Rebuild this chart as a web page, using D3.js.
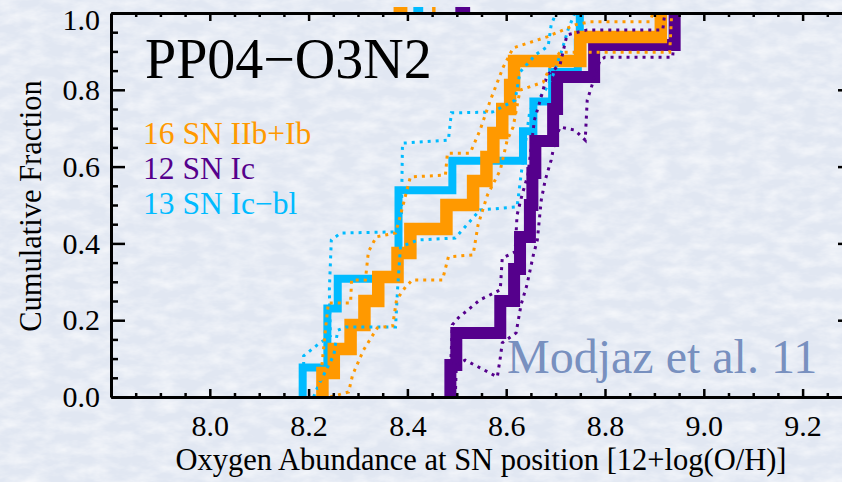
<!DOCTYPE html>
<html>
<head>
<meta charset="utf-8">
<script src="https://cdn.jsdelivr.net/npm/d3@7"></script>
<style>
  html, body { margin: 0; padding: 0; background: #e1e7f1; }
  svg { display: block; }
  text { font-family: "Liberation Serif", "Times New Roman", serif; }
</style>
</head>
<body>
<svg id="chart" width="842" height="482"></svg>
<script>
// sorted 12+log(O/H) of each sample (solid cumulative curves)
const snIIbIb = [8.228, 8.251, 8.285, 8.313, 8.341, 8.380, 8.406, 8.479, 8.533, 8.560, 8.574, 8.592, 8.608, 8.616, 8.750, 8.913];
const snIc = [8.487, 8.499, 8.588, 8.616, 8.628, 8.648, 8.653, 8.659, 8.695, 8.703, 8.778, 8.941];
const snIcBl = [8.188, 8.238, 8.238, 8.259, 8.382, 8.382, 8.382, 8.491, 8.634, 8.655, 8.693, 8.745, 8.749];

// dotted envelopes: [12+log(O/H), cumulative fraction]
const snIIbIbLow = [[8.220, 0.000], [8.226, 0.070], [8.234, 0.174], [8.240, 0.245], [8.285, 0.245], [8.287, 0.305],
  [8.315, 0.305], [8.321, 0.378], [8.337, 0.417], [8.376, 0.427], [8.386, 0.474], [8.406, 0.573], [8.477, 0.578],
  [8.481, 0.635], [8.527, 0.635], [8.547, 0.695], [8.568, 0.773], [8.594, 0.859], [8.614, 0.909], [8.683, 0.938],
  [8.739, 0.969], [8.770, 0.977], [8.891, 0.977], [8.897, 1.000]];
const snIIbIbHigh = [[8.244, 0.000], [8.281, 0.013], [8.289, 0.057], [8.311, 0.122], [8.339, 0.180], [8.370, 0.185],
  [8.378, 0.253], [8.396, 0.286], [8.410, 0.305], [8.471, 0.305], [8.483, 0.365], [8.533, 0.370], [8.543, 0.448],
  [8.562, 0.526], [8.588, 0.591], [8.602, 0.669], [8.614, 0.703], [8.628, 0.799], [8.675, 0.820], [8.693, 0.872],
  [8.709, 0.898], [8.931, 0.898], [8.935, 1.000]];
const snIcLow = [[8.485, 0.000], [8.491, 0.188], [8.503, 0.206], [8.547, 0.253], [8.588, 0.279], [8.592, 0.362],
  [8.618, 0.378], [8.622, 0.474], [8.632, 0.526], [8.644, 0.578], [8.657, 0.721], [8.669, 0.773], [8.683, 0.839],
  [8.709, 0.865], [8.723, 0.943], [8.764, 0.956], [8.917, 0.956], [8.921, 1.000]];
const snIcHigh = [[8.497, 0.000], [8.499, 0.083], [8.517, 0.096], [8.547, 0.076], [8.582, 0.052], [8.588, 0.102],
  [8.592, 0.141], [8.620, 0.167], [8.630, 0.240], [8.642, 0.292], [8.655, 0.370], [8.663, 0.409], [8.671, 0.513],
  [8.679, 0.565], [8.691, 0.617], [8.699, 0.669], [8.709, 0.703], [8.739, 0.695], [8.760, 0.669], [8.764, 0.773],
  [8.774, 0.813], [8.790, 0.878], [8.800, 0.885], [8.937, 0.885], [8.943, 1.000]];
const snIcBlLow = [[8.190, 0.000], [8.190, 0.107], [8.220, 0.138], [8.244, 0.159], [8.242, 0.279], [8.246, 0.409],
  [8.265, 0.427], [8.376, 0.430], [8.388, 0.474], [8.390, 0.661], [8.483, 0.669], [8.489, 0.740], [8.572, 0.742],
  [8.618, 0.773], [8.628, 0.846], [8.659, 0.891], [8.685, 0.914], [8.691, 0.969], [8.701, 1.000]];
const snIcBlHigh = [[8.210, 0.000], [8.220, 0.031], [8.251, 0.109], [8.259, 0.174], [8.275, 0.182], [8.376, 0.182],
  [8.380, 0.279], [8.386, 0.391], [8.422, 0.409], [8.497, 0.414], [8.547, 0.487], [8.622, 0.495], [8.630, 0.578],
  [8.648, 0.747], [8.679, 0.799], [8.695, 0.839], [8.713, 0.904], [8.725, 0.956], [8.739, 1.000]];

// bits of a legend that got cropped off above the frame: [from, to] in O/H
const cutLegendIIbIb = [[8.372, 8.400], [8.450, 8.457]];
const cutLegendIcBl = [[8.412, 8.432]];
const cutLegendIc = [[8.497, 8.527]];

const xTicks = [8.0, 8.2, 8.4, 8.6, 8.8, 9.0, 9.2];
const yTicks = [0.0, 0.2, 0.4, 0.6, 0.8, 1.0];
const legendLabels = ['16 SN IIb+Ib', '12 SN Ic', '13 SN Ic\u2212bl'];

const colors = { IIbIb: '#ff9900', Ic: '#55008c', IcBl: '#00bbff' };

const svg = d3.select('#chart');
const width = 842, height = 482;

const x = d3.scaleLinear().domain([7.8, 9.3]).range([111, 852]);
const y = d3.scaleLinear().domain([0, 1]).range([397, 13]);

// paper texture
const defs = svg.append('defs');
const paper = defs.append('filter').attr('id', 'paper')
  .attr('x', 0).attr('y', 0).attr('width', '100%').attr('height', '100%');
paper.append('feTurbulence').attr('type', 'fractalNoise')
  .attr('baseFrequency', '0.045 0.09').attr('numOctaves', 4).attr('seed', 11);
paper.append('feColorMatrix').attr('type', 'matrix')
  .attr('values', '0 0 0 0 1  0 0 0 0 1  0 0 0 0 1  1.1 0 0 0 -0.38');
defs.append('clipPath').attr('id', 'crop')
  .append('rect').attr('x', 0).attr('y', 7).attr('width', width).attr('height', height - 7);

svg.append('rect').attr('width', width).attr('height', height).attr('fill', '#e1e7f2');
svg.append('rect').attr('width', width).attr('height', height).attr('filter', 'url(#paper)');

const g = svg.append('g').attr('clip-path', 'url(#crop)');

// cumulative step curves
const cdf = (vals) => [[vals[0], 0]].concat(vals.map((v, i) => [v, (i + 1) / vals.length]));
const stepLine = d3.line().x(d => x(d[0])).y(d => y(d[1])).curve(d3.curveStepAfter);
const dotLine = d3.line().x(d => x(d[0])).y(d => y(d[1]));

const solids = [
  { data: snIcBl, color: colors.IcBl, w: 8 },
  { data: snIc, color: colors.Ic, w: 12 },
  { data: snIIbIb, color: colors.IIbIb, w: 12.5 },
];
g.selectAll('.solid').data(solids).enter().append('path')
  .attr('class', 'solid')
  .attr('d', d => stepLine(cdf(d.data)))
  .attr('fill', 'none')
  .attr('stroke', d => d.color)
  .attr('stroke-width', d => d.w)
  .attr('stroke-linejoin', 'miter');

const dotted = [
  { data: snIcBlLow, color: colors.IcBl },
  { data: snIcBlHigh, color: colors.IcBl },
  { data: snIcLow, color: colors.Ic },
  { data: snIcHigh, color: colors.Ic },
  { data: snIIbIbLow, color: colors.IIbIb },
  { data: snIIbIbHigh, color: colors.IIbIb },
];
g.selectAll('.dotted').data(dotted).enter().append('path')
  .attr('class', 'dotted')
  .attr('d', d => dotLine(d.data))
  .attr('fill', 'none')
  .attr('stroke', d => d.color)
  .attr('stroke-width', 3)
  .attr('stroke-dasharray', '3 5');

const stubs = [].concat(
  cutLegendIIbIb.map(r => ({ r, color: colors.IIbIb })),
  cutLegendIcBl.map(r => ({ r, color: colors.IcBl })),
  cutLegendIc.map(r => ({ r, color: colors.Ic })));
g.selectAll('.stub').data(stubs).enter().append('line')
  .attr('x1', d => x(d.r[0])).attr('x2', d => x(d.r[1]))
  .attr('y1', y(1.01)).attr('y2', y(1.01))
  .attr('stroke', d => d.color).attr('stroke-width', 6);

// axes
const xMinor = d3.range(157, 186).filter(i => i % 4 !== 0).map(i => i / 20);
const yMinor = d3.range(1, 20).filter(i => i % 4 !== 0).map(i => i / 20);

function styleAxis(sel) {
  sel.selectAll('path.domain').attr('stroke', '#000').attr('stroke-width', 3);
  sel.selectAll('.tick line').attr('stroke', '#000').attr('stroke-width', 2.5);
  sel.selectAll('.tick text').attr('fill', '#000')
    .style('font-family', '"Liberation Serif", serif').style('font-size', '30px');
}

const axisB = g.append('g').attr('transform', `translate(0,${y(0)})`)
  .call(d3.axisBottom(x).tickValues(xTicks).tickSize(-8).tickSizeOuter(0).tickPadding(18)
    .tickFormat(d3.format('.1f')));
styleAxis(axisB);
const axisBMinor = g.append('g').attr('transform', `translate(0,${y(0)})`)
  .call(d3.axisBottom(x).tickValues(xMinor).tickSize(-4).tickFormat(''));
axisBMinor.select('.domain').remove();
styleAxis(axisBMinor);

const axisT = g.append('g').attr('transform', `translate(0,${y(1)})`)
  .call(d3.axisTop(x).tickValues(xTicks).tickSize(-8).tickSizeOuter(0).tickFormat(''));
styleAxis(axisT);
const axisTMinor = g.append('g').attr('transform', `translate(0,${y(1)})`)
  .call(d3.axisTop(x).tickValues(xMinor).tickSize(-4).tickFormat(''));
axisTMinor.select('.domain').remove();
styleAxis(axisTMinor);

const axisL = g.append('g').attr('transform', `translate(${x(7.8)},0)`)
  .call(d3.axisLeft(y).tickValues(yTicks).tickSize(-14).tickSizeOuter(0).tickPadding(11)
    .tickFormat(d3.format('.1f')));
styleAxis(axisL);
// top label sits lower in the original
axisL.selectAll('.tick text').filter(d => d === 1).attr('y', 7);
const axisLMinor = g.append('g').attr('transform', `translate(${x(7.8)},0)`)
  .call(d3.axisLeft(y).tickValues(yMinor).tickSize(-7).tickFormat(''));
axisLMinor.select('.domain').remove();
styleAxis(axisLMinor);

const axisR = g.append('g').attr('transform', `translate(${x(9.3)},0)`)
  .call(d3.axisRight(y).tickValues(yTicks).tickSize(-14).tickSizeOuter(0).tickFormat(''));
styleAxis(axisR);
const axisRMinor = g.append('g').attr('transform', `translate(${x(9.3)},0)`)
  .call(d3.axisRight(y).tickValues(yMinor).tickSize(-7).tickFormat(''));
axisRMinor.select('.domain').remove();
styleAxis(axisRMinor);

// axis titles
g.append('text')
  .attr('x', 481).attr('y', 470)
  .attr('text-anchor', 'middle')
  .style('font-size', '30.5px')
  .text('Oxygen Abundance at SN position [12+log(O/H)]');

g.append('text')
  .attr('transform', 'translate(41,206) rotate(-90)')
  .attr('text-anchor', 'middle')
  .style('font-size', '30.5px')
  .text('Cumulative Fraction');

// panel title and legend
g.append('text')
  .attr('x', 145).attr('y', 78)
  .style('font-size', '56px')
  .text('PP04\u2212O3N2');

const legendColors = [colors.IIbIb, colors.Ic, colors.IcBl];
g.selectAll('.legend').data(legendLabels).enter().append('text')
  .attr('class', 'legend')
  .attr('x', 143)
  .attr('y', (d, i) => 144 + i * 35.2)
  .attr('fill', (d, i) => legendColors[i])
  .style('font-size', '31.5px')
  .text(d => d);

g.append('text')
  .attr('x', 507).attr('y', 373)
  .attr('fill', '#7890bf')
  .style('font-size', '48px')
  .text('Modjaz et al. 11');
</script>
</body>
</html>
